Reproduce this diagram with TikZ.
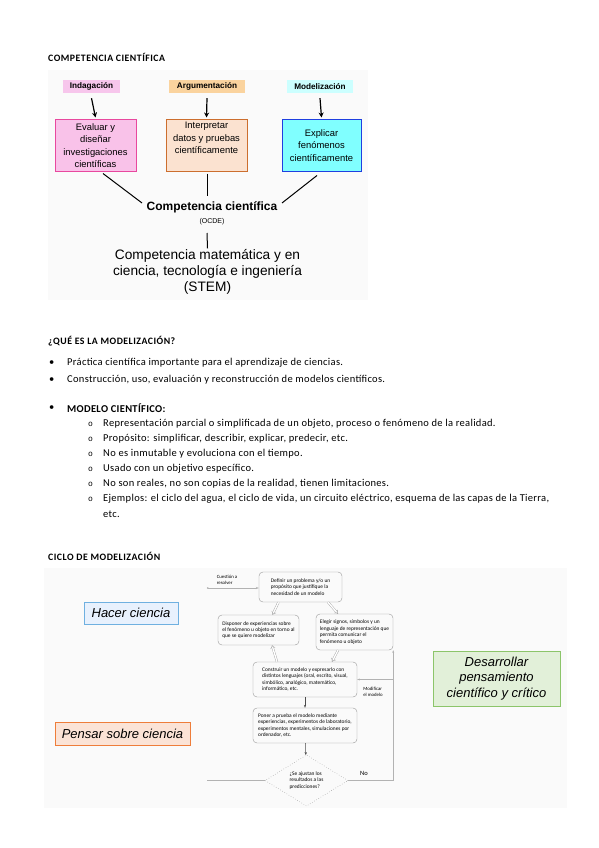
\documentclass[tikz,border=0pt]{standalone}
\usepackage{fontspec}
\setmainfont{Carlito}
\newfontfamily\bodyfont[LetterSpace=3]{Carlito}
\newfontfamily\headfont[LetterSpace=5]{Carlito}
\newfontfamily\figfont{Liberation Sans}
\newfontfamily\markfont{Liberation Mono}
\usetikzlibrary{arrows.meta,shapes.geometric}

\definecolor{tagpink}{HTML}{F7C6EC}
\definecolor{tagorange}{HTML}{FAD39E}
\definecolor{tagcyan}{HTML}{CCFFFF}
\definecolor{pinkfill}{HTML}{F9C2E9}
\definecolor{pinkline}{HTML}{E8489E}
\definecolor{orangefill}{HTML}{FBE2D0}
\definecolor{orangeline}{HTML}{CC6E2E}
\definecolor{cyanfill}{HTML}{80FFFF}
\definecolor{cyanline}{HTML}{1F3FE0}
\definecolor{bluefill}{HTML}{E8F1FD}
\definecolor{blueline}{HTML}{6FB0E0}
\definecolor{peachfill}{HTML}{FBE3D6}
\definecolor{peachline}{HTML}{EE7D3A}
\definecolor{greenfill}{HTML}{E2F0D9}
\definecolor{greenline}{HTML}{8CC56A}

\begin{document}
\begin{tikzpicture}[x=1pt,y=-1pt,
		head/.style={anchor=west,inner sep=0pt,font=\headfont\fontsize{9.8}{11}\selectfont\bfseries},
		body/.style={anchor=west,inner sep=0pt,font=\bodyfont\fontsize{10.5}{12}\selectfont},
		tag/.style={inner sep=0pt,minimum height=13pt,font=\figfont\fontsize{8.2}{9}\selectfont\bfseries},
		comp/.style={line width=1pt,minimum width=81pt,minimum height=51pt,align=center,inner sep=1pt,font=\figfont\fontsize{9.4}{12.3}\selectfont},
		role/.style={line width=0.8pt,inner sep=0pt,align=center,font=\figfont\itshape\fontsize{13}{15.5}\selectfont},
		flowbox/.style={draw=gray!80,rounded corners=4pt,line width=0.4pt,align=left,inner sep=1pt,font=\fontsize{5.4}{6.4}\selectfont},
		flowtext/.style={inner sep=0pt,align=left,font=\fontsize{4.8}{5.5}\selectfont},
		flowline/.style={draw=gray!60,line width=0.5pt},
		hollow/.style={draw=gray!80,double,double distance=1.4pt,line width=0.35pt,-{Implies}},
		bigarrow/.style={line width=1.2pt,-{Stealth[length=5pt,width=5pt]}}
	]
	\useasboundingbox (0,0) rectangle (599,848);
	\fill[white] (0,0) rectangle (599,848);

	% competencia cientifica
	\node[head] (h1) at (48,57) {COMPETENCIA CIENTÍFICA};
	\fill[black!2] (48,70) rectangle (368,300);
	\node[tag,fill=tagpink,minimum width=57pt]   (tagind) at (91.5,86.5)  {Indagación};
	\node[tag,fill=tagorange,minimum width=76pt] (tagarg) at (207,86.5)   {Argumentación};
	\node[tag,fill=tagcyan,minimum width=66pt]   (tagmod) at (320,86.5)   {Modelización};

	\node[comp,draw=pinkline,fill=pinkfill]     (boxind) at (95.5,145.5)  {Evaluar y\\diseñar\\investigaciones\\científicas};
	\node[comp,draw=orangeline,fill=orangefill] (boxarg) at (206.5,145.5) {Interpretar\\datos y pruebas\\científicamente\\[3pt]};
	\node[comp,draw=cyanline,fill=cyanfill,minimum width=79pt] (boxmod) at (321.5,145.5) {Explicar\\fenómenos\\científicamente};

	\foreach \t/\b in {tagind/boxind, tagarg/boxarg, tagmod/boxmod}
	{	\draw[bigarrow] ([yshift=-5pt]\t.south) -- ([yshift=2pt]\b.north);
	}

	\node[inner sep=0pt,font=\figfont\bfseries\fontsize{12}{13}\selectfont] (compsci) at (212,207) {Competencia científica};
	\node[inner sep=0pt,font=\figfont\fontsize{7}{8}\selectfont] (ocde) at (212,222) {(OCDE)};
	\node[inner sep=0pt,align=center,font=\figfont\fontsize{13.7}{16}\selectfont] (stem) at (207.5,272)
		{Competencia matemática y en\\ciencia, tecnología e ingeniería\\(STEM)};

	\coordinate (jl) at (142,203);
	\coordinate (jm) at (207,196);
	\coordinate (jr) at (282,203);
	\coordinate (js) at (207,233);
	\draw[line width=1pt] ([xshift=7.5pt,yshift=-2pt]boxind.south) -- (jl);
	\draw[line width=1pt] ([xshift=0.5pt,yshift=-2pt]boxarg.south) -- (jm);
	\draw[line width=1pt] ([xshift=-4.5pt,yshift=-4pt]boxmod.south) -- (jr);
	\draw[line width=1pt] (js) -- ([yshift=1pt]stem.north);

	% que es la modelizacion
	\node[head] (h2) at (48,341) {¿QUÉ ES LA MODELIZACIÓN?};
	\foreach \y/\t in {363/{Práctica científica importante para el aprendizaje de ciencias.},
		380/{Construcción, uso, evaluación y reconstrucción de modelos científicos.}}
	{	\node[body] at (49,\y) {•};
		\node[body] at (67,\y) {\t};
	}
	\node[body] at (49,408) {•};
	\node[body,font=\bodyfont\fontsize{10.5}{12}\selectfont\bfseries] (h3) at (67,408) {MODELO CIENTÍFICO:};
	\foreach \y/\t in {424/{Representación parcial o simplificada de un objeto, proceso o fenómeno de la realidad.},
		439/{Propósito: simplificar, describir, explicar, predecir, etc.},
		454/{No es inmutable y evoluciona con el tiempo.},
		469/{Usado con un objetivo específico.},
		484/{No son reales, no son copias de la realidad, tienen limitaciones.},
		499/{Ejemplos: el ciclo del agua, el ciclo de vida, un circuito eléctrico, esquema de las capas de la Tierra,}}
	{	\node[body,font=\markfont\fontsize{8}{9}\selectfont] at (88,\y) {o};
		\node[body] at (103,\y) {\t};
	}
	\node[body] at (103,514) {etc.};

	% ciclo de modelizacion
	\node[head] (h4) at (48,556) {CICLO DE MODELIZACIÓN};
	\fill[black!2] (44,568) rectangle (567,808);

	\node[role,draw=blueline,fill=bluefill,minimum width=94pt,minimum height=22pt] (hacer) at (131,613) {Hacer ciencia};
	\node[role,draw=peachline,fill=peachfill,minimum width=135pt,minimum height=23pt] (pensar) at (122.5,733.5) {Pensar sobre ciencia};
	\node[role,draw=greenline,fill=greenfill,minimum width=127pt,minimum height=55pt] (desarr) at (496.5,678.5) {Desarrollar\\pensamiento\\científico y crítico};

	\node[flowtext] (fq) at (227,580) {Cuestión a\\resolver};
	\node[flowbox,minimum width=83pt,minimum height=30pt] (ftop)   at (300.5,587) {Definir un problema y/o un\\propósito que justifique la\\necesidad de un modelo};
	\node[flowbox,minimum width=81pt,minimum height=30pt] (fleft)  at (258.5,630) {Disponer de experiencias sobre\\el fenómeno u objeto en torno al\\que se quiere modelizar};
	\node[flowbox,minimum width=77pt,minimum height=36pt] (fright) at (354.5,632) {Elegir signos, símbolos y un\\lenguaje de representación que\\permita comunicar el\\fenómeno u objeto};
	\node[flowbox,minimum width=104pt,minimum height=35pt] (fmid)  at (305,679.5) {Construir un modelo y expresarlo con\\distintos lenguajes (oral, escrito, visual,\\simbólico, analógico, matemático,\\informático, etc.};
	\node[flowbox,minimum width=104pt,minimum height=35pt] (ftest) at (305,725.5) {Poner a prueba el modelo mediante\\experiencias, experimentos de laboratorio,\\experimentos mentales, simulaciones por\\ordenador, etc.};
	\node[diamond,draw=gray!80,dotted,line width=0.5pt,minimum width=83pt,minimum height=45pt,inner sep=0pt,align=left,font=\fontsize{5.4}{6.4}\selectfont] (fdec) at (306.5,780.5) {¿Se ajustan los\\resultados a las\\predicciones?};
	\node[inner sep=0pt,font=\fontsize{6.5}{7}\selectfont] (fno) at (364,773) {No};
	\node[flowtext] (fmod) at (373,692) {Modificar\\el modelo};

	\coordinate (fstart) at (207,588);
	\coordinate (fend) at (207,780.5);
	\draw[flowline,{Circle[length=1.6pt]}-{Stealth[length=3pt]}] (fstart) -- (fstart -| ftop.west);
	\foreach \u\v\du\dv in {ftop/fleft/-22/14, ftop/fright/27.5/-16.5}
	{	\draw[hollow] ([xshift=\du pt]\u.south) -- ([xshift=\dv pt]\v.north);
	}
	\draw[hollow] ([xshift=-28pt]fmid.north) -- ([xshift=13.5pt]fleft.south);
	\draw[hollow] ([xshift=-16.5pt]fright.south) -- ([xshift=27pt]fmid.north);
	\draw[flowline,draw=black!70,-{Stealth[length=3pt]}] (fmid) -- (ftest);
	\draw[flowline,draw=black!70,-{Stealth[length=3pt]}] (ftest) -- (fdec);
	\draw[flowline] (fdec.west) -- (fend);
	\draw[flowline,-{Stealth[length=2.5pt]}] (fdec.east) -| (fright.south east);
	\draw[flowline,-{Stealth[length=2.5pt]}] (fright.south east |- fmid.east) -- (fmid.east);
\end{tikzpicture}
\end{document}
